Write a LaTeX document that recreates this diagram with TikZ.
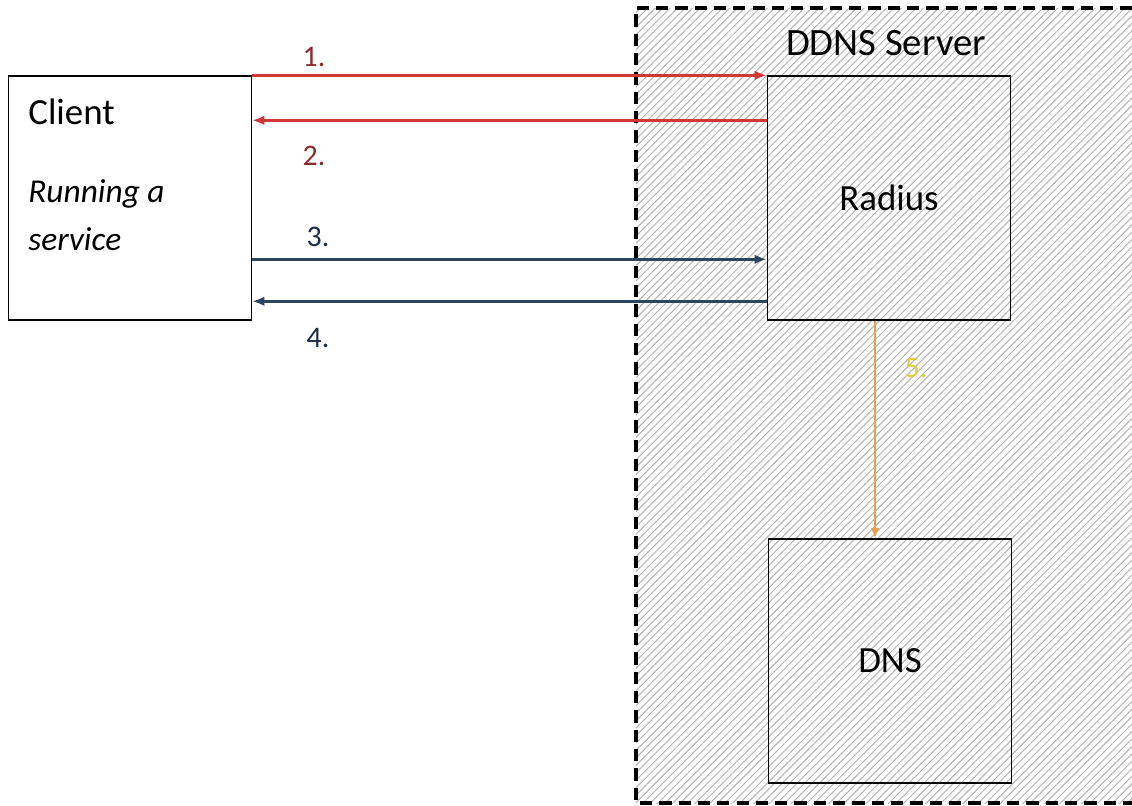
\documentclass[tikz,border=0pt]{standalone}
\usepackage{fontspec}
\setmainfont{Carlito}
\usetikzlibrary{arrows.meta,patterns.meta}
\definecolor{arrowred}{RGB}{210,55,55}
\definecolor{labelred}{RGB}{140,45,45}
\definecolor{arrowblue}{RGB}{45,70,95}
\definecolor{labelblue}{RGB}{30,45,70}
\definecolor{arroworange}{RGB}{230,160,80}
\definecolor{labelyellow}{RGB}{220,205,70}

\begin{document}
\begin{tikzpicture}[x=0.02cm,y=-0.02cm,
	box/.style={draw,line width=0.8pt,minimum width=4.86cm,minimum height=4.88cm},
	msg/.style={line width=1.4pt,-{Latex[length=7pt,width=5.5pt]}},
	num/.style={font=\fontsize{17}{20}\selectfont}]
		\useasboundingbox (0,0) rectangle (1132,805);
		\fill[white] (0,0) rectangle (1132,805);
		\fill[pattern={Lines[angle=45,distance=3pt,line width=0.55pt]},pattern color=gray!60] (636,8) rectangle (1132,803);
		\draw[line width=2pt,dash pattern=on 7pt off 4pt] (1132,8) -- (636,8) -- (636,803) -- (1132,803);
		\node[anchor=base,font=\fontsize{22}{26}\selectfont,inner sep=0pt] (server) at (886,55) {DDNS Server};
		\node[box] (client) at (130,198) {};
		\node[anchor=base west,font=\fontsize{21}{25}\selectfont,inner sep=0pt] (clientname) at (28,124) {Client};
		\node[anchor=base west,font=\fontsize{19}{23}\selectfont\itshape,inner sep=0pt] (running) at (28,202) {Running a};
		\node[anchor=base west,font=\fontsize{19}{23}\selectfont\itshape,inner sep=0pt] (service) at (28,250) {service};
		\node[box,font=\fontsize{21}{25}\selectfont] (radius) at (889,198) {Radius};
		\node[box,font=\fontsize{21}{25}\selectfont] (dns) at (890,661) {DNS};
		\draw[msg,arrowred] (client.north east) -- (radius.north west);
		\draw[msg,arrowred] ([yshift=-0.9cm]radius.north west) -- ([yshift=-0.9cm]client.north east);
		\draw[msg,arrowblue] ([yshift=-3.68cm]client.north east) -- ([yshift=-3.68cm]radius.north west);
		\draw[msg,arrowblue] ([yshift=-4.52cm]radius.north west) -- ([yshift=-4.52cm]client.north east);
		\draw[arroworange,line width=0.8pt,-{Latex[length=6pt,width=5pt]}] ([xshift=-0.28cm]radius.south) -- ([xshift=-0.3cm]dns.north);
		\node[num,text=labelred] (one) at (314,57) {1.};
		\node[num,text=labelred] (two) at (314,156) {2.};
		\node[num,text=labelblue] (three) at (318,237) {3.};
		\node[num,text=labelblue] (four) at (318,338) {4.};
		\node[num,text=labelyellow] (five) at (916,368) {5.};
	\end{tikzpicture}
\end{document}
